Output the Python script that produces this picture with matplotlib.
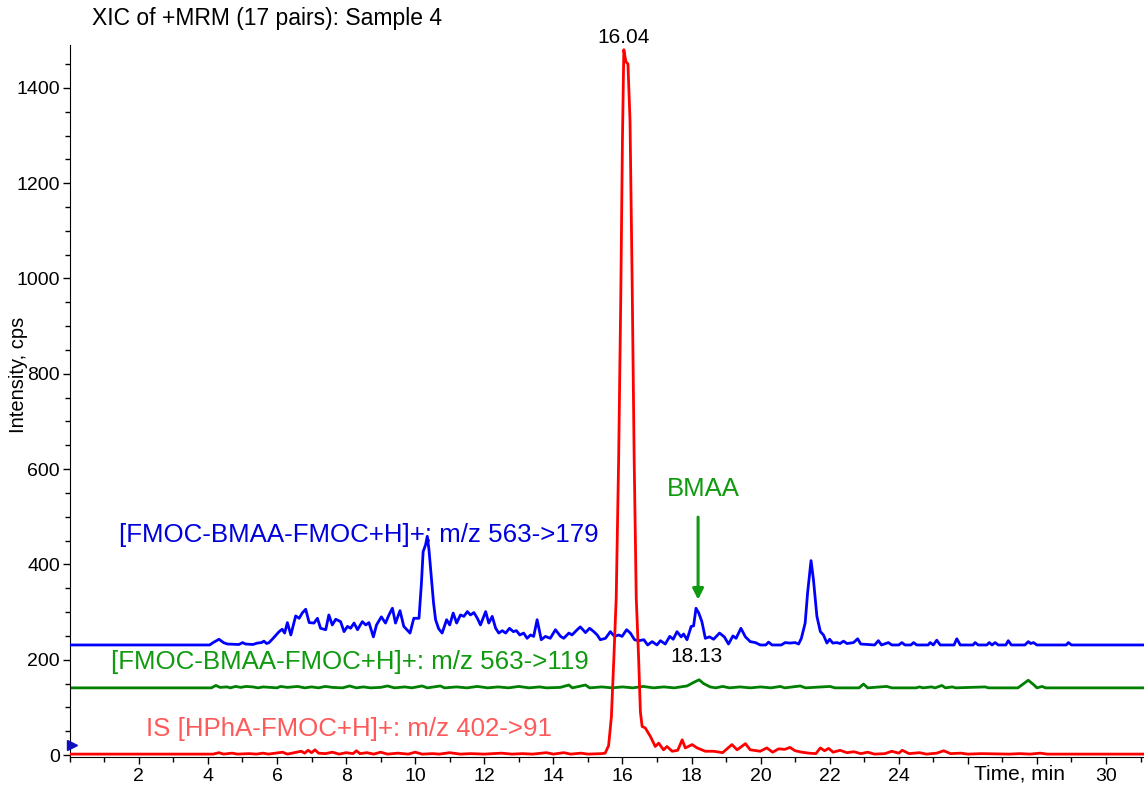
import matplotlib
matplotlib.use("Agg")
import matplotlib.pyplot as plt
from matplotlib.ticker import MultipleLocator

plt.rcParams['font.family'] = ['Liberation Sans', 'DejaVu Sans']

# ---- data (time in min, intensity in cps) ----
blue_t = [0.0, 4.05, 4.15, 4.32, 4.45, 4.56, 4.9, 5.0, 5.09, 5.3, 5.43, 5.55, 5.62, 5.7, 5.77, 5.9,
          6.06, 6.15, 6.22, 6.30, 6.40, 6.54, 6.64, 6.73, 6.83, 6.93, 7.07, 7.17, 7.26, 7.41, 7.50,
          7.60, 7.70, 7.84, 7.94, 8.04, 8.13, 8.23, 8.33, 8.47, 8.57, 8.66, 8.79, 8.88, 9.02, 9.14,
          9.24, 9.34, 9.43, 9.56, 9.67, 9.85, 9.96, 10.11, 10.18, 10.23, 10.30, 10.35, 10.40, 10.46,
          10.53, 10.59, 10.68, 10.78, 10.91, 11.00, 11.10, 11.20, 11.31, 11.41, 11.51, 11.60, 11.70,
          11.80, 11.89, 12.04, 12.13, 12.23, 12.33, 12.42, 12.52, 12.62, 12.73, 12.84, 12.93, 13.03,
          13.14, 13.24, 13.34, 13.43, 13.53, 13.65, 13.77, 13.91, 14.06, 14.21, 14.30, 14.45, 14.54,
          14.69, 14.78, 14.93, 15.05, 15.17, 15.27, 15.36, 15.51, 15.65, 15.77, 15.89, 15.99, 16.12,
          16.23, 16.35, 16.47, 16.62, 16.73, 16.86, 17.00, 17.10, 17.24, 17.37, 17.47, 17.58, 17.70,
          17.77, 17.87, 17.99, 18.06, 18.13, 18.21, 18.30, 18.40, 18.52, 18.64, 18.81, 18.95, 19.07,
          19.20, 19.29, 19.43, 19.56, 19.70, 19.85, 19.99, 20.15, 20.23, 20.33, 20.60, 20.71, 20.85,
          21.00, 21.10, 21.18, 21.29, 21.36, 21.46, 21.53, 21.63, 21.73, 21.82, 21.92, 22.00, 22.09,
          22.21, 22.30, 22.40, 22.50, 22.69, 22.81, 22.90, 23.30, 23.41, 23.50, 23.70, 23.80, 24.00,
          24.09, 24.18, 24.35, 24.43, 24.52, 24.85, 24.91, 25.0, 25.10, 25.2, 25.6, 25.68, 25.78,
          26.15, 26.21, 26.3, 26.55, 26.62, 26.7, 26.79, 26.88, 27.1, 27.17, 27.26, 27.65, 27.75,
          27.82, 27.90, 28.0, 28.85, 28.91, 29.0, 31.2]
blue_i = [231, 231, 236, 243, 236, 233, 232, 236, 233, 232, 235, 236, 239, 234, 236, 246,
          259, 264, 256, 278, 252, 292, 287, 298, 306, 278, 277, 287, 266, 263, 294,
          273, 285, 280, 259, 270, 266, 277, 263, 280, 273, 278, 248, 273, 290, 277,
          294, 308, 277, 303, 270, 256, 287, 287, 360, 427, 441, 459, 430, 380,
          320, 284, 265, 256, 284, 273, 298, 277, 294, 291, 301, 294, 299,
          287, 273, 301, 277, 291, 266, 256, 261, 256, 266, 259, 261, 252,
          256, 245, 252, 249, 284, 242, 249, 245, 263, 249, 245, 256, 252,
          263, 269, 257, 266, 259, 252, 242, 245, 259, 249, 252, 249, 263,
          256, 242, 240, 242, 231, 238, 231, 240, 233, 249, 243, 259, 248,
          254, 242, 270, 271, 308, 298, 280, 245, 248, 243, 256, 248, 233,
          250, 245, 266, 248, 238, 236, 231, 231, 237, 231, 231, 236, 235,
          236, 233, 245, 277, 340, 408, 368, 291, 259, 252, 235, 243, 235,
          236, 234, 239, 234, 236, 244, 233, 231, 240, 231, 236, 231, 231,
          236, 231, 231, 236, 231, 231, 236, 231, 241, 231, 231, 244, 231,
          231, 236, 231, 231, 236, 231, 236, 231, 231, 240, 231, 231, 238,
          234, 236, 231, 231, 236, 231, 231]

green_t = [0, 4.10, 4.23, 4.35, 4.55, 4.65, 4.80, 4.95, 5.1, 5.3, 5.45, 5.6, 5.8, 6.0, 6.1, 6.3,
           6.6, 6.8, 7.0, 7.2, 7.4, 7.6, 7.9, 8.1, 8.3, 8.5, 8.7, 9.0, 9.2, 9.4, 9.7, 9.9, 10.2,
           10.35, 10.73, 10.85, 11.2, 11.5, 11.8, 12.1, 12.4, 12.7, 13.0, 13.3, 13.6, 13.8, 14.2,
           14.45, 14.55, 14.93, 15.05, 15.4, 15.7, 16.0, 16.3, 16.6, 16.9, 17.2, 17.5, 17.87, 18.05,
           18.22, 18.35, 18.54, 18.7, 18.9, 19.1, 19.4, 19.7, 20.0, 20.3, 20.57, 20.7, 21.15, 21.3,
           22.01, 22.15, 22.85, 22.98, 23.1, 23.65, 23.8, 24.5, 24.6, 24.7, 24.95, 25.05, 25.25,
           25.35, 25.55, 25.65, 26.5, 26.6, 27.45, 27.6, 27.75, 27.9, 28.0, 28.15, 28.25, 31.2]
green_i = [141, 141, 146, 142, 143, 141, 144, 142, 144, 143, 141, 143, 142, 141, 144, 142,
           144, 141, 143, 141, 144, 142, 141, 145, 141, 143, 141, 142, 145, 141, 143, 141, 145,
           141, 145, 141, 143, 141, 144, 141, 143, 141, 144, 141, 143, 141, 142,
           147, 141, 147, 141, 143, 141, 143, 141, 144, 141, 143, 141, 145, 152,
           158, 150, 143, 141, 144, 141, 143, 141, 143, 141, 144, 141, 145, 141,
           144, 141, 141, 149, 141, 144, 141, 141, 143, 141, 143, 141, 146,
           141, 143, 141, 143, 141, 141, 149, 157, 148, 141, 144, 141, 141]

red_t = [0, 4.15, 4.32, 4.45, 4.7, 4.85, 5.2, 5.4, 5.6, 5.75, 6.16, 6.3, 6.7, 6.8, 6.9, 7.0, 7.1,
         7.2, 7.4, 7.6, 7.8, 8.0, 8.2, 8.3, 8.4, 8.6, 8.8, 9.0, 9.2, 9.5, 9.8, 10.0, 10.2, 10.5,
         10.7, 11.0, 11.3, 11.6, 12.0, 12.5, 12.8, 13.1, 13.4, 13.8, 14.0, 14.3, 14.5, 14.8, 15.0,
         15.4, 15.5, 15.60, 15.68, 15.75, 15.82, 15.89, 15.95, 16.00, 16.04, 16.10, 16.16, 16.22,
         16.28, 16.34, 16.40, 16.47, 16.52, 16.57, 16.66, 16.81, 16.95, 17.05, 17.19, 17.29, 17.44,
         17.6, 17.73, 17.82, 18.02, 18.16, 18.40, 18.64, 18.9, 19.17, 19.32, 19.56, 19.70, 19.99,
         20.18, 20.35, 20.52, 20.7, 20.85, 21.0, 21.2, 21.4, 21.6, 21.73, 21.85, 21.97, 22.1, 22.3,
         22.5, 22.7, 22.9, 23.1, 23.3, 23.6, 23.8, 24.0, 24.1, 24.3, 24.6, 24.8, 25.1, 25.3, 25.5,
         25.8, 26.0, 26.4, 27.2, 27.5, 27.8, 28.1, 28.3, 31.2]
red_i = [2, 2, 5, 2, 4, 2, 3, 2, 4, 2, 6, 2, 8, 4, 10, 5, 11,
         4, 3, 6, 2, 5, 3, 9, 3, 5, 2, 6, 2, 4, 2, 6, 2, 3,
         2, 5, 2, 3, 2, 4, 2, 3, 2, 5, 2, 5, 2, 4, 2,
         3, 4, 20, 80, 200, 330, 620, 950, 1290, 1480, 1455, 1450, 1330,
         1000, 620, 330, 200, 90, 60, 57, 39, 18, 25, 11, 18, 8,
         10, 32, 15, 22, 15, 8, 8, 5, 22, 11, 24, 11, 8,
         15, 6, 13, 12, 16, 9, 6, 4, 3, 15, 9, 14, 6, 10,
         5, 7, 3, 6, 2, 3, 8, 4, 10, 3, 5, 2, 4, 9, 3,
         4, 2, 3, 2, 3, 2, 4, 2, 2]

x_tick_values = [2, 4, 6, 8, 10, 12, 14, 16, 18, 20, 22, 24, 26, 28, 30]
x_tick_labels = ['2', '4', '6', '8', '10', '12', '14', '16', '18', '20', '22', '24', '', '', '30']

labels = ['[FMOC-BMAA-FMOC+H]+: m/z 563->179',
          '[FMOC-BMAA-FMOC+H]+: m/z 563->119',
          'IS [HPhA-FMOC+H]+: m/z 402->91']

# ---- figure ----
fig = plt.figure(figsize=(11.44, 7.89), dpi=100)
ax = fig.add_axes([0.061, 0.0406, 0.939, 0.9024])

lw = 2.0
ax.plot(green_t, green_i, color='#008000', lw=lw, zorder=2)
ax.plot(blue_t, blue_i, color='#0000ff', lw=lw, zorder=3)
ax.plot(red_t, red_i, color='#ff0000', lw=lw, zorder=4)

ax.set_xlim(0, 31.1)
ax.set_ylim(-4, 1490)

for s in ['top', 'right']:
    ax.spines[s].set_visible(False)

ax.set_xticks(x_tick_values)
ax.set_xticklabels(x_tick_labels)
ax.xaxis.set_minor_locator(MultipleLocator(1))
ax.yaxis.set_major_locator(MultipleLocator(200))
ax.yaxis.set_minor_locator(MultipleLocator(50))
ax.tick_params(axis='both', which='major', labelsize=14, length=5, width=1, direction='out')
ax.tick_params(axis='both', which='minor', length=3.5, width=1, direction='out')
ax.tick_params(axis='x', pad=3)
ax.tick_params(axis='y', pad=2)

ax.set_ylabel('Intensity, cps', fontsize=14.5)
ax.yaxis.set_label_coords(-0.039, 0.537)

ax.text(27.5, -20, 'Time, min', fontsize=15, ha='center', va='top')

fig.text(0.080, 0.977, 'XIC of +MRM (17 pairs): Sample 4', fontsize=16.5, ha='left', va='center')

# trace labels
ax.text(1.42, 462, labels[0], color='#0000dd', fontsize=18.6, ha='left', va='center')
ax.text(1.19, 196, labels[1], color='#109a10', fontsize=18.6, ha='left', va='center')
ax.text(2.2, 55, labels[2], color='#ff5a5a', fontsize=18.6, ha='left', va='center')

# peak annotations
ax.text(16.04, 1486, '16.04', fontsize=15, ha='center', va='bottom')
ax.text(18.13, 206, '18.13', fontsize=15, ha='center', va='center')
ax.text(18.35, 558, 'BMAA', color='#109a10', fontsize=18.5, ha='center', va='center')
ax.annotate('', xy=(18.19, 320), xytext=(18.19, 505),
            arrowprops=dict(arrowstyle='-|>', color='#109a10', lw=2.2, mutation_scale=16))

# small marker on the y axis
ax.plot([0.05], [22], marker='>', color='#1010c0', markersize=7, clip_on=False, zorder=5)

fig.savefig('out.png', dpi=100)
